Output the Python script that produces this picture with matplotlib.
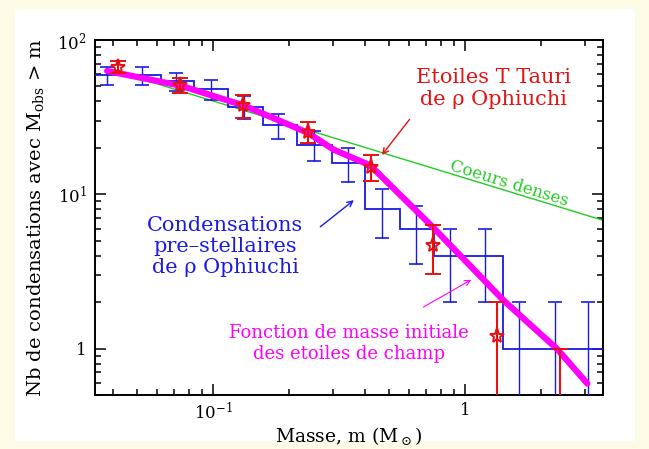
import matplotlib
matplotlib.use('Agg')
import matplotlib.pyplot as plt
from matplotlib.patches import Rectangle
from matplotlib.ticker import FixedLocator, FixedFormatter, LogLocator, NullFormatter

plt.rcParams['font.family'] = ['DejaVu Serif']
plt.rcParams['mathtext.fontset'] = 'dejavuserif'

# ---------------- data ----------------
# pre-stellar condensations (cumulative histogram)
cond_edges = [0.033, 0.045, 0.062, 0.084, 0.115, 0.158, 0.216, 0.295, 0.40, 0.55,
              0.75, 1.03, 1.41, 1.93, 2.64, 3.6]
cond_centers = [0.038, 0.052, 0.071, 0.098, 0.133, 0.181, 0.252, 0.344, 0.469, 0.640,
                0.871, 1.20, 1.64, 2.27, 3.08]
cond_counts = [59, 59, 54, 48, 37, 28, 21, 16, 8, 6, 4, 4, 1, 1, 1]
cond_err_low = [7.7, 7.7, 7.3, 6.9, 6.1, 5.3, 4.6, 4.0, 2.8, 2.45, 2.0, 2.0, 0.99, 0.99, 0.99]
cond_err_high = [7.7, 7.7, 7.3, 6.9, 6.1, 5.3, 4.6, 4.0, 2.8, 2.45, 2.0, 2.0, 1.0, 1.0, 1.0]

# T Tauri stars
tt_mass = [0.0421, 0.0740, 0.1315, 0.238, 0.424, 0.747, 1.34, 2.38]
tt_counts = [67, 51, 37.7, 25.3, 15.0, 4.66, 1.21, 0.3]
tt_err_low = [6.2, 5.5, 6.3, 3.8, 2.75, 1.6, 1.2, 0.0]
tt_err_high = [6.4, 6.0, 6.3, 4.2, 2.9, 1.7, 0.8, 0.7]

# field star IMF (cumulative)
imf_mass = [0.038, 0.0745, 0.133, 0.238, 0.30, 0.42, 0.746, 1.42, 2.32, 3.05]
imf_counts = [63, 50.5, 37.5, 25, 19.5, 15.4, 6.1, 2.05, 0.99, 0.593]

# dense cores power law
cores_mass = [0.045, 3.5]
cores_counts = [60, 6.8]

x_ticks = [0.1, 1]
x_ticklabels = ['10$^{-1}$', '1']
y_ticks = [1, 10, 100]
y_ticklabels = ['1', '10$^{1}$', '10$^{2}$']

# ---------------- figure ----------------
W, H = 649, 449
fig = plt.figure(figsize=(W / 100, H / 100), dpi=100)
fig.patch.set_facecolor('#fbfbe6')
fig.add_artist(Rectangle((15 / W, 8 / H), 620 / W, 432 / H, transform=fig.transFigure,
                         facecolor='white', edgecolor='none', zorder=0))

ax = fig.add_axes([95 / W, 1 - 395 / H, 508 / W, 355 / H])
ax.set_xscale('log')
ax.set_yscale('log')
ax.set_xlim(0.034, 3.52)
ax.set_ylim(0.5, 100)

blue = '#1a1ae0'
red = '#e81010'
green = '#22cc22'
magenta = '#ff00ff'

ax.plot(cores_mass, cores_counts, color=green, lw=1.0, zorder=2)

ax.stairs(cond_counts, cond_edges, baseline=None, color=blue, lw=1.3, zorder=3)
ax.errorbar(cond_centers, cond_counts, yerr=[cond_err_low, cond_err_high], fmt='none',
            ecolor=blue, elinewidth=1.0, capsize=5, capthick=1.2, zorder=3)

ax.plot(imf_mass, imf_counts, color=magenta, lw=4.5, solid_capstyle='round', zorder=4)

ax.errorbar(tt_mass, tt_counts, yerr=[tt_err_low, tt_err_high], fmt='*', color=red,
            ms=11, mfc='none', mec=red, mew=1.4, ecolor=red, elinewidth=1.5,
            capsize=6, capthick=2.2, zorder=5)

# ticks
ax.xaxis.set_major_locator(FixedLocator(x_ticks))
ax.xaxis.set_major_formatter(FixedFormatter(x_ticklabels))
ax.yaxis.set_major_locator(FixedLocator(y_ticks))
ax.yaxis.set_major_formatter(FixedFormatter(y_ticklabels))
ax.xaxis.set_minor_locator(LogLocator(base=10, subs=range(2, 10)))
ax.yaxis.set_minor_locator(LogLocator(base=10, subs=range(2, 10)))
ax.xaxis.set_minor_formatter(NullFormatter())
ax.yaxis.set_minor_formatter(NullFormatter())
ax.tick_params(which='both', direction='in', top=True, right=True, width=1.1,
               labelsize=12)
ax.tick_params(axis='x', pad=5)
ax.tick_params(axis='y', pad=6)
ax.tick_params(which='major', length=8)
ax.tick_params(which='minor', length=4)
for s in ax.spines.values():
    s.set_linewidth(1.4)

ax.set_xlabel('Masse, m (M$_\\odot$)', fontsize=13.5, labelpad=1)
ax.set_ylabel('Nb de condensations avec M$_{\\rm obs}$ > m', fontsize=14, labelpad=8)

# annotations
ax.text(1.29, 48.8, 'Etoiles T Tauri\nde \u03c1 Ophiuchi', color=red, fontsize=15,
        ha='center', va='center', linespacing=1.2)
ax.text(0.1116, 4.6, 'Condensations\npre\u2013stellaires\nde \u03c1 Ophiuchi', color=blue,
        fontsize=15, ha='center', va='center', linespacing=1.15)
ax.text(0.347, 1.077, 'Fonction de masse initiale\ndes etoiles de champ', color=magenta,
        fontsize=13, ha='center', va='center', linespacing=1.25)
ax.text(1.50, 11.8, 'Coeurs denses', color=green, fontsize=12, ha='center', va='center',
        rotation=-17)

ax.annotate('', xy=(0.460, 17.4), xytext=(0.611, 31.6),
            arrowprops=dict(arrowstyle='->', color=red, lw=1.0))
ax.annotate('', xy=(0.369, 9.4), xytext=(0.261, 6.0),
            arrowprops=dict(arrowstyle='->', color=blue, lw=1.0))
ax.annotate('', xy=(1.08, 2.85), xytext=(0.668, 1.82),
            arrowprops=dict(arrowstyle='->', color=magenta, lw=0.8))

fig.savefig('out.png', dpi=100, facecolor=fig.get_facecolor())
